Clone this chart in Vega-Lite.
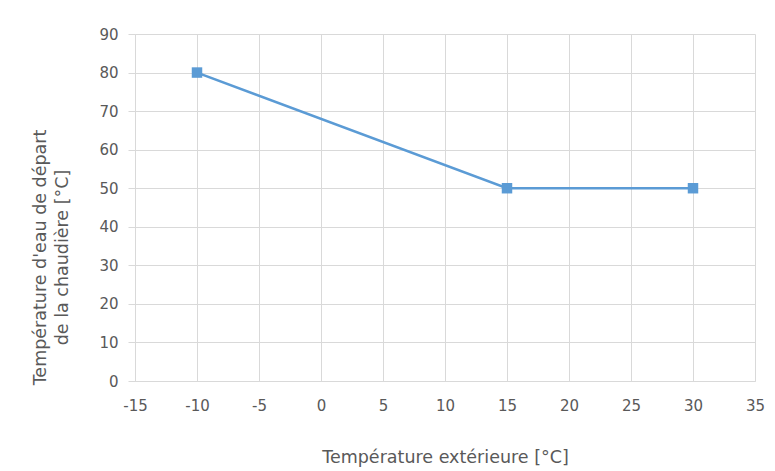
{
  "$schema": "https://vega.github.io/schema/vega-lite/v6.json",
  "width": 620,
  "height": 347,
  "autosize": {"type": "none"},
  "padding": {"left": 135, "top": 34, "right": 20, "bottom": 90},
  "background": "white",
  "config": {
    "view": {"stroke": null},
    "font": "DejaVu Sans",
    "axis": {
      "labelColor": "#595959",
      "titleColor": "#595959",
      "labelFontSize": 15,
      "titleFontSize": 17.5,
      "titleFontWeight": "normal",
      "gridColor": "#D9D9D9",
      "domainColor": "#D9D9D9",
      "tickColor": "#D9D9D9",
      "labelFont": "DejaVu Sans",
      "titleFont": "DejaVu Sans"
    }
  },
  "data": {
    "values": [
      {"t_ext": -10, "t_dep": 80},
      {"t_ext": 15, "t_dep": 50},
      {"t_ext": 30, "t_dep": 50}
    ]
  },
  "encoding": {
    "x": {
      "field": "t_ext", "type": "quantitative",
      "scale": {"domain": [-15, 35], "nice": false, "zero": false},
      "axis": {"values": [-15, -10, -5, 0, 5, 10, 15, 20, 25, 30, 35], "ticks": false, "labelPadding": 17, "title": "Température extérieure [°C]", "titlePadding": 35, "labelFlush": false, "labelOverlap": false, "labelExpr": "toString(datum.value)"}
    },
    "y": {
      "field": "t_dep", "type": "quantitative",
      "scale": {"domain": [0, 90], "nice": false},
      "axis": {"values": [0, 10, 20, 30, 40, 50, 60, 70, 80, 90], "tickSize": 7, "labelPadding": 10, "title": ["Température d'eau de départ", "de la chaudière [°C]"], "titlePadding": 27, "titleLineHeight": 22, "titleY": 223, "labelFlush": false, "labelOverlap": false}
    }
  },
  "layer": [
    {
      "mark": {"type": "line", "color": "#5B9BD5", "strokeWidth": 2.5}
    },
    {
      "mark": {"type": "point", "shape": "square", "filled": true, "opacity": 1, "color": "#5B9BD5", "size": 110}
    }
  ]
}
